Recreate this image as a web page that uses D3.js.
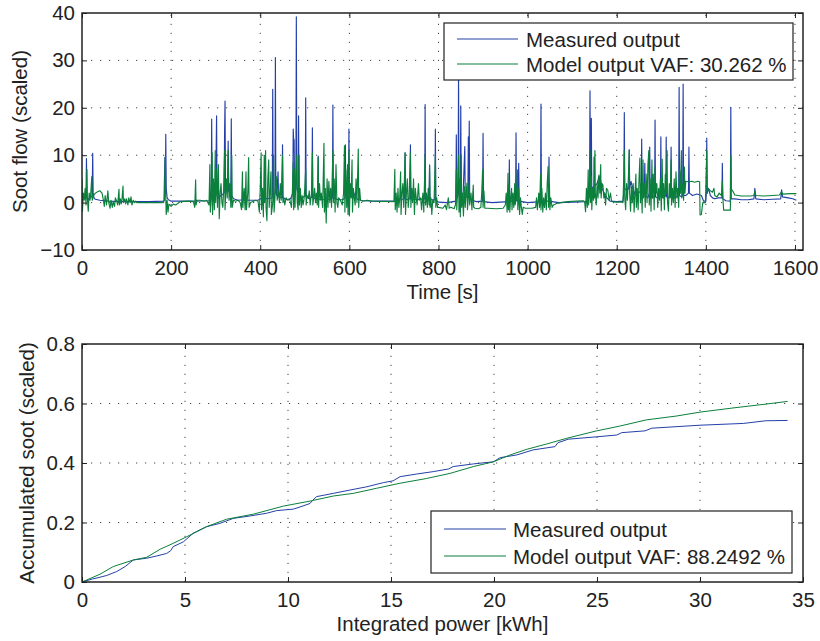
<!DOCTYPE html>
<html><head><meta charset="utf-8">
<script src="https://cdn.jsdelivr.net/npm/d3@7"></script>
<style>
body{margin:0;background:#fff}
svg{display:block}
text{font-family:"Liberation Sans",Arial,Helvetica,sans-serif;fill:#222}
</style>
</head><body>
<svg id="chart" width="820" height="641"></svg>
<script>
// ---------- DATA ----------
const timeTicks = [0, 200, 400, 600, 800, 1000, 1200, 1400, 1600];
const flowTicks = [-10, 0, 10, 20, 30, 40];
const powerTicks = [0, 5, 10, 15, 20, 25, 30, 35];
const accTicks = [0, 0.2, 0.4, 0.6, 0.8];
const accTickLabels = ["0", "0.2", "0.4", "0.6", "0.8"];

const seriesNames = ["Measured output", "Model output"];
const vafTop = "30.262";
const vafBottom = "88.2492";

// Top panel: soot flow vs time [s] -- [t, value]
const measuredFlow = [
[0,0.6],[3,1.2],[6,0.8],[9,1],[10,9.3],[11,1.2],[14,0.7],[18,0.9],[21,1.2],[23,1.5],[24,10.4],[25,2],[27,1],[30,0.7],[40,0.5],[60,0.3],[90,0.2],[150,0.2],[184,0.3],[186,9.5],[187,2],[188,14.4],[189,3],[191,1],[194,0.6],[200,0.3],[250,0.3],[286,0.4],[288,2],[290,1],[291,17.6],[292,1.5],[296,1],[300,2],[302,18.3],[303,1.5],[306,1],[312,1.5],[319,2],[320,15],[321,21.4],[322,3],[324,2.7],[327,3],[328,13],[329,2.5],[331,2],[334,2.5],[335,17.7],[336,1.5],[340,0.8],[350,0.5],[365,0.6],[375,0.5],[395,0.5],[405,1],[415,0.8],[427,1],[428,23.9],[429,1.5],[433,2],[434,30.6],[435,2.5],[437,1.5],[440,6.5],[441,1.2],[449,1],[450,12.2],[451,1],[460,0.6],[468,0.8],[473,2],[474,15.5],[475,13],[476,13.3],[477,3],[480,5],[481,39.2],[482,3],[485,2],[486,18.3],[487,1.5],[495,1],[501,1.5],[502,22.1],[503,1.2],[510,0.8],[516,1.2],[517,15.8],[518,1],[525,0.8],[529,1],[530,9.8],[531,0.7],[545,0.6],[555,0.7],[562,1],[563,20.6],[564,1],[575,0.6],[585,0.6],[590,1],[591,12.2],[592,1.5],[596,2],[598,3],[599,15.5],[600,4],[603,3.5],[607,2.8],[612,1.5],[618,0.7],[630,0.4],[660,0.3],[700,0.3],[715,0.6],[724,0.8],[725,10.5],[726,0.7],[730,0.6],[736,0.8],[737,12.2],[738,0.8],[750,0.6],[769,0.8],[770,20.7],[771,0.8],[779,0.8],[780,7.9],[781,0.6],[792,0.6],[793,15.5],[794,0.5],[800,0.1],[820,0],[839,0.3],[840,14.3],[841,1],[844,1.5],[845,27],[846,2],[849,1.5],[850,20.4],[851,1.5],[855,1],[859,11.8],[860,1],[866,1.5],[867,13.9],[868,2],[869,17.2],[870,1.2],[875,0.5],[885,0.2],[899,0.3],[900,14.6],[901,0.2],[920,0],[958,0.2],[959,9],[960,0.3],[973,0.3],[974,14.7],[975,0.4],[979,0.4],[980,8.3],[981,0.3],[1000,0],[1029,0.2],[1030,20.8],[1031,0.3],[1047,0.3],[1048,9.6],[1049,0.5],[1055,0.2],[1070,0],[1100,0.1],[1130,0.2],[1138,1],[1139,2],[1140,23.6],[1141,3],[1142,2],[1143,17.8],[1144,3],[1150,3.5],[1156,4],[1160,5.5],[1163,5],[1167,3],[1172,2],[1178,1],[1185,0.3],[1200,0.2],[1214,0.3],[1216,2],[1217,19],[1218,3],[1222,2.5],[1227,3],[1228,11.2],[1229,3],[1232,4.5],[1236,3],[1242,1.5],[1248,2],[1255,2.5],[1256,13.4],[1257,2],[1262,2],[1263,8.3],[1264,1.5],[1270,1],[1273,2],[1274,11.7],[1275,1.5],[1280,1],[1285,1.5],[1286,17.4],[1287,1.2],[1292,1],[1298,1.5],[1299,13.9],[1300,1.5],[1305,1],[1310,1.5],[1311,13.8],[1312,1.2],[1316,1],[1321,1.5],[1322,11.7],[1323,1.5],[1330,1],[1339,1.5],[1340,24.3],[1341,1.5],[1345,1.2],[1348,1.5],[1349,25],[1350,1.5],[1355,1.5],[1361,2],[1362,11.7],[1363,2],[1370,1.5],[1380,1.8],[1390,1.5],[1395,0.3],[1400,0.3],[1401,2],[1402,13.6],[1403,2],[1406,3],[1410,1.5],[1415,1],[1420,0.8],[1428,1],[1436,1],[1437,8.3],[1438,0.8],[1445,0.4],[1455,0.3],[1456,20.1],[1457,0.8],[1465,0.8],[1480,0.6],[1495,0.6],[1508,0.8],[1510,3],[1512,0.8],[1530,0.6],[1550,0.7],[1568,0.8],[1570,2.7],[1572,1.2],[1585,1],[1595,0.8],[1603,0.5]
];

const modelFlow = [
[0,5],[1,-1.8],[3,2],[5,0.5],[7,3],[9,-0.5],[11,7],[12,1],[14,-1.8],[16,2],[18,0.5],[20,2.5],[22,5.5],[23,0.5],[26,1.5],[30,2],[35,2.3],[40,2.5],[45,2],[48,0.5],[50,-0.8],[52,1.5],[55,-0.5],[58,2.5],[60,0],[63,-1.2],[65,0.5],[68,-1],[70,0.2],[73,-0.8],[75,1],[78,0.3],[80,-0.5],[83,2.8],[84,-0.5],[86,0.8],[88,-0.3],[90,1],[92,3.5],[93,0],[96,0.8],[98,-0.3],[100,0.8],[103,-0.5],[105,1],[108,0],[110,1.2],[112,-0.5],[115,0.5],[118,0],[120,0.3],[125,0],[180,0],[185,0.5],[187,9.7],[188,1],[189,-2.5],[191,0.5],[193,-2],[195,-0.3],[200,-0.8],[205,-0.3],[210,-0.5],[215,-0.2],[220,0.2],[240,0.3],[250,0.2],[253,-1],[255,4.8],[256,-0.5],[258,0.5],[265,0.5],[275,0.3],[280,0.5],[285,-0.5],
[287,8],[288,-2],[290,0.5],[292,10.5],[293,-2.5],[295,5],[297,-1.5],[299,11],[300,0],[302,7],[304,-1],[306,8],[308,-3.4],[310,2],[312,4],[314,0],[316,-1],[318,3],[320,11],[321,-1.5],[324,5],[326,1],[328,11],[330,0.5],[332,4],[334,-1],[336,10],[337,-1],[340,0.5],[345,0.3],[350,0.5],[355,0],[358,-1.5],[360,6.5],[361,-1],[364,3],[366,-1.5],[368,6.5],[369,-1.5],[372,2],[374,9.5],[375,-1],[378,0],[385,0.3],[390,0.5],[395,0.3],[398,-2],[400,3],[402,10.5],[403,-1.5],[405,3],[407,-3],[409,10],[410,0],[412,11],[413,-1],[415,-3.8],[417,5],[419,9],[420,-1],[422,2],[424,6.5],[425,-2.5],[428,0],[430,10],[431,-2],[433,1],[436,5.5],[438,0.5],[441,2.5],[443,0],[445,4],[447,0.5],[450,10],[451,0],[453,1],[455,-0.5],[458,1],[462,0.5],[466,0.8],[470,-1],[472,2],[474,8.5],[475,-1.5],[477,7],[478,-1],[480,5],[482,10],[483,0],[485,-1.5],[487,10],[488,-0.5],[490,3],[492,-1],[494,1.5],[496,-0.5],[498,0.5],[500,3],[502,7],[503,-0.5],[505,1.5],[508,1],[510,2.5],[512,-0.5],[515,2],[517,10.5],[518,-0.5],[520,1],[522,3],[524,0],[526,2],[528,-0.5],[530,9.5],[531,-1],[533,4],[535,0.5],[537,2],[540,-1],[543,12.5],[544,-2],[546,3],[548,-4.3],[550,5],[552,-1],[554,4.5],[556,0],[558,3],[560,-1],[563,11],[564,0],[566,5],[568,-2],[570,8],[572,0],[574,-1],[576,1],[580,0.5],[584,-0.5],[587,2],[589,12],[590,-2],[592,7],[594,-1],[596,8],[597,-2.5],[599,11],[600,-2.8],[602,4],[604,1],[606,9],[607,-2],[609,3],[611,1],[613,-0.5],[615,5],[617,0],[620,11.3],[621,-1],[623,3],[625,0.5],[630,0.3],[640,0.5],[650,0.3],[700,0.2],
[702,7],[703,-1.5],[705,2],[707,-2],[709,3],[711,-1],[713,1],[715,6.5],[716,-2.5],[718,2],[720,4],[722,-1],[725,10.5],[726,-2.5],[728,2],[730,5],[732,-1],[734,1],[737,10.5],[738,-1],[740,3],[742,0],[744,5],[746,-2.5],[748,3],[750,1],[752,-0.5],[755,4],[757,0.5],[760,1],[762,-1.5],[765,2],[767,-2],[770,10],[771,-0.5],[773,2],[775,-1],[777,3],[779,-0.5],[780,7.9],[781,-1],[783,1],[785,-2.5],[787,0.5],[790,0],[793,10],[794,-1],[796,1],[798,-1],
[800,-1],[810,-1.2],[815,-0.5],[818,-1.5],[822,1],[824,-1.2],[828,-1],[835,-1.3],[838,-0.5],[840,6.9],[841,-1.5],[843,3],[845,10],[846,-2],[848,5],[849,-3],[851,10],[852,-1],[854,2],[856,-2.8],[858,3.4],[860,-1],[862,2],[864,4.1],[865,-1.5],[867,1],[869,4.5],[870,-0.5],[873,2],[875,-1.5],[878,3.7],[879,-1],[882,-1.2],[890,-1.3],[895,-1],[897,2],[899,6.9],[900,-1],[902,2.5],[904,-1.2],[910,-1.2],[930,-1.3],[945,-1.2],[950,-0.5],[952,2],[954,-2],[956,6.2],[957,-1.5],[959,4],[960,-2],[962,1],[964,3],[965,-1.5],[967,2],[969,-1],[971,4],[972,-0.5],[975,1],[977,6.9],[978,-1.5],[980,3],[982,-2.5],[984,1],[986,-1],[988,-2.5],[990,-1],[995,-1.2],[1010,-1.2],[1018,-1],[1020,1],[1022,-1.5],[1025,2],[1027,-1],[1029,5.9],[1030,-1.5],[1032,3],[1034,-2],[1036,1],[1038,-1],[1040,2],[1042,-1.5],[1044,4],[1046,7.6],[1047,-1],[1049,4],[1050,-1.5],[1052,1],[1055,-1],[1058,-0.5],[1065,-0.2],[1075,0],[1090,0.2],[1110,0.3],[1125,0.4],[1128,0.2],
[1130,-1.9],[1132,3],[1134,-1],[1136,6.9],[1137,-0.5],[1139,4],[1140,11],[1141,0],[1143,5.5],[1144,-1.5],[1146,3],[1148,0.5],[1149,9.6],[1150,1],[1151,11],[1152,2],[1154,-0.5],[1156,4],[1158,1],[1160,5.8],[1162,2],[1164,8],[1165,1],[1167,4],[1169,3.7],[1171,1],[1173,2],[1175,-0.5],[1177,3],[1180,2.6],[1183,0.5],[1186,2],[1188,0.5],[1190,0.2],[1200,0.1],[1214,0.1],
[1216,6],[1217,11],[1218,1],[1220,-1.5],[1222,4],[1224,0.5],[1226,5],[1228,11],[1229,2],[1231,-1.8],[1233,3.4],[1235,0],[1237,4],[1239,-2],[1241,2],[1243,6],[1244,-1],[1246,3],[1248,-1.5],[1250,5],[1252,9.4],[1253,0],[1255,4],[1257,-2.2],[1259,9],[1260,1],[1262,4],[1264,-1],[1266,6],[1268,0],[1270,8],[1272,11],[1273,-0.5],[1275,5],[1277,-1.8],[1279,9],[1280,1],[1282,6],[1284,-1.5],[1286,7.5],[1288,2],[1290,4],[1292,-1],[1294,3],[1296,0.5],[1298,5],[1300,-1.7],[1302,9.2],[1303,1],[1305,4],[1307,-1.5],[1309,6],[1311,2],[1313,11],[1314,0],[1316,-1.8],[1318,4],[1320,1],[1322,9],[1323,-0.5],[1325,3],[1327,0],[1329,5],[1331,-1],[1333,6.5],[1335,1],[1337,3],[1339,-1],[1341,7],[1343,2],[1345,11],[1346,1],[1348,4],[1350,0.5],[1352,7.5],[1353,2],[1355,4.5],[1360,4.4],[1368,4.5],[1375,4.3],[1382,4.5],[1386,4.4],[1387,-2.6],[1390,-2.5],[1393,0],[1399,0],[1400,3],[1402,11],[1403,2],[1405,3],[1410,2.5],[1415,2.2],[1418,3],[1420,1.5],[1425,1.2],[1430,2],[1435,1.5],[1437,4.5],[1438,1.2],[1440,-1.6],[1450,-1.6],[1455,-1.6],[1456,10],[1457,2.8],[1460,2.5],[1465,1.6],[1480,1.4],[1500,1.4],[1508,1.5],[1510,2.4],[1512,1.5],[1530,1.4],[1550,1.5],[1565,1.6],[1570,2.3],[1572,1.8],[1590,1.9],[1603,1.9]
];

// Bottom panel: accumulated soot vs integrated power [kWh] -- [kWh, value]
const measuredAcc = [
[0,0],[0.5,0.01],[0.87,0.016],[1.2,0.022],[1.68,0.035],[2.1,0.052],[2.49,0.074],[3.14,0.08],[3.6,0.087],[4.11,0.096],[4.3,0.105],[4.43,0.119],[4.92,0.135],[5.4,0.164],[6.05,0.186],[6.69,0.197],[7.0,0.205],[7.35,0.214],[8.16,0.222],[8.96,0.231],[9.45,0.240],[10.26,0.245],[10.58,0.252],[11.07,0.264],[11.2,0.275],[11.39,0.287],[12.2,0.298],[13.0,0.309],[13.82,0.32],[14.63,0.334],[15.1,0.34],[15.44,0.354],[16.25,0.363],[17.05,0.371],[17.8,0.38],[18.02,0.388],[19.0,0.397],[19.97,0.404],[20.3,0.418],[21.1,0.427],[21.9,0.444],[22.96,0.455],[23.1,0.468],[23.6,0.48],[24.98,0.488],[25.96,0.494],[26.2,0.502],[27.33,0.508],[27.66,0.517],[30.0,0.527],[32.1,0.533],[33.2,0.542],[34.25,0.543]
];
const modelAcc = [
[0,0],[0.87,0.026],[1.52,0.052],[2.49,0.074],[3.14,0.083],[3.79,0.11],[4.43,0.13],[5.08,0.152],[6.05,0.186],[7.02,0.211],[8.32,0.228],[9.77,0.255],[11.07,0.272],[12.2,0.289],[13.17,0.298],[14.3,0.315],[15.44,0.332],[16.73,0.348],[17.86,0.365],[19.0,0.388],[19.97,0.404],[20.78,0.427],[21.59,0.446],[22.56,0.464],[23.53,0.483],[24.98,0.508],[26.1,0.524],[27.4,0.545],[28.87,0.558],[30.0,0.571],[31.6,0.585],[33.2,0.598],[34.25,0.607]
];

// ---------- DRAWING ----------
const svg = d3.select("#chart");
const BLUE = "#2440a8", GREEN = "#0b7f3c", INK = "#222";
const FONT = 20.5;

function panel(cfg) {
  const x = d3.scaleLinear().domain(cfg.xDomain).range([cfg.left, cfg.right]);
  const y = d3.scaleLinear().domain(cfg.yDomain).range([cfg.bottom, cfg.top]);
  const g = svg.append("g");
  const clipId = "clip" + cfg.id;
  svg.append("defs").append("clipPath").attr("id", clipId)
    .append("rect").attr("x", cfg.left).attr("y", cfg.top)
    .attr("width", cfg.right - cfg.left).attr("height", cfg.bottom - cfg.top);

  // grid (dotted)
  const grid = g.append("g").attr("stroke", "#444").attr("stroke-width", 1)
    .attr("stroke-dasharray", "1.2,7.8");
  cfg.xTicks.filter(t => x(t) > cfg.left + 1 && x(t) < cfg.right - 1).forEach(t => {
    grid.append("line").attr("x1", x(t)).attr("x2", x(t)).attr("y1", cfg.bottom).attr("y2", cfg.top);
  });
  cfg.yTicks.filter(t => y(t) < cfg.bottom - 1 && y(t) > cfg.top + 1).forEach(t => {
    grid.append("line").attr("y1", y(t)).attr("y2", y(t)).attr("x1", cfg.left).attr("x2", cfg.right);
  });

  // lines
  const line = d3.line().x(d => x(d[0])).y(d => y(d[1]));
  const lg = g.append("g").attr("clip-path", `url(#${clipId})`).attr("fill", "none")
    .attr("stroke-width", cfg.lw).attr("stroke-linejoin", "round");
  lg.append("path").datum(cfg.series[0]).attr("d", line).attr("stroke", BLUE);
  lg.append("path").datum(cfg.series[1]).attr("d", line).attr("stroke", GREEN);

  // axes with inward ticks
  const ax = g.append("g");
  ax.append("g").attr("transform", `translate(0,${cfg.bottom})`)
    .call(d3.axisBottom(x).tickValues(cfg.xTicks).tickSize(-5).tickSizeOuter(0).tickPadding(cfg.xPad).tickFormat(d3.format("d")));
  ax.append("g").attr("transform", `translate(0,${cfg.top})`)
    .call(d3.axisTop(x).tickValues(cfg.xTicks).tickSize(-5).tickSizeOuter(0).tickFormat(""));
  ax.append("g").attr("transform", `translate(${cfg.left},0)`)
    .call(d3.axisLeft(y).tickValues(cfg.yTicks).tickSize(-5).tickSizeOuter(0).tickPadding(7).tickFormat((d, i) => cfg.yLabels[i]));
  ax.append("g").attr("transform", `translate(${cfg.right},0)`)
    .call(d3.axisRight(y).tickValues(cfg.yTicks).tickSize(-5).tickSizeOuter(0).tickFormat(""));
  ax.selectAll(".domain").remove();
  ax.selectAll(".tick line").attr("stroke", INK).attr("stroke-width", 1);
  ax.selectAll("text").attr("font-size", FONT).attr("font-family", null).style("fill", INK);

  // box
  g.append("rect").attr("x", cfg.left).attr("y", cfg.top)
    .attr("width", cfg.right - cfg.left).attr("height", cfg.bottom - cfg.top)
    .attr("fill", "none").attr("stroke", INK).attr("stroke-width", 1.5);

  // labels
  g.append("text").attr("x", (cfg.left + cfg.right) / 2).attr("y", cfg.xLabelY)
    .attr("text-anchor", "middle").attr("font-size", FONT).text(cfg.xLabel);
  g.append("text").attr("transform", `translate(${cfg.yLabelX},${(cfg.top + cfg.bottom) / 2}) rotate(-90)`)
    .attr("text-anchor", "middle").attr("font-size", FONT).text(cfg.yLabel);

  // legend
  const L = cfg.legend;
  const lgd = g.append("g");
  lgd.append("rect").attr("x", L.x).attr("y", L.y).attr("width", L.w).attr("height", L.h)
    .attr("fill", "#fff").attr("stroke", INK).attr("stroke-width", 1.2);
  const labels = [seriesNames[0], `${seriesNames[1]} VAF: ${L.vaf} %`];
  [BLUE, GREEN].forEach((c, i) => {
    const ry = L.rows[i];
    lgd.append("line").attr("x1", L.lx1).attr("x2", L.lx2).attr("y1", ry).attr("y2", ry)
      .attr("stroke", c).attr("stroke-width", 1.2);
    lgd.append("text").attr("x", L.tx).attr("y", ry + 7.5).attr("font-size", FONT).text(labels[i]);
  });
}

panel({
  id: "top", left: 82, right: 803, top: 13, bottom: 250, lw: 1.15,
  xDomain: [0, 1618], yDomain: [-10, 40],
  xTicks: timeTicks, yTicks: flowTicks,
  yLabels: flowTicks.map(v => v < 0 ? "\u2212" + Math.abs(v) : String(v)),
  xPad: 10, xLabel: "Time [s]", xLabelY: 299, yLabel: "Soot flow (scaled)", yLabelX: 27,
  series: [measuredFlow, modelFlow],
  legend: { x: 444, y: 23, w: 349, h: 57, rows: [39, 64], lx1: 457, lx2: 518, tx: 526, vaf: vafTop }
});

panel({
  id: "bot", left: 82, right: 803, top: 344, bottom: 582, lw: 1,
  xDomain: [0, 35], yDomain: [0, 0.8],
  xTicks: powerTicks, yTicks: accTicks, yLabels: accTickLabels,
  xPad: 10, xLabel: "Integrated power [kWh]", xLabelY: 631, yLabel: "Accumulated soot (scaled)", yLabelX: 33.5,
  series: [measuredAcc, modelAcc],
  legend: { x: 431, y: 511, w: 361, h: 62, rows: [529, 556], lx1: 444, lx2: 506, tx: 513, vaf: vafBottom }
});
</script>
</body></html>
